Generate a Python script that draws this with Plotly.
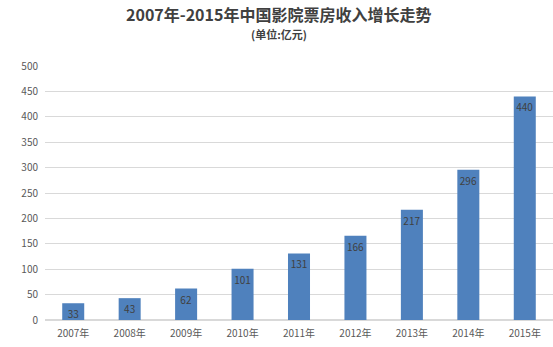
import plotly.graph_objects as go

years = ["2007年", "2008年", "2009年", "2010年", "2011年", "2012年", "2013年", "2014年", "2015年"]
revenue = [33, 43, 62, 101, 131, 166, 217, 296, 440]
y_ticks = [0, 50, 100, 150, 200, 250, 300, 350, 400, 450, 500]

font_family = "Noto Sans CJK SC, Noto Sans, sans-serif"

fig = go.Figure(go.Bar(
    x=years, y=revenue,
    marker=dict(color="#4F81BD", line=dict(width=0)),
    text=[str(v) for v in revenue],
    textposition="inside", insidetextanchor="end", textangle=0,
    textfont=dict(color="#404040", size=10, family=font_family),
    constraintext="none",
))

H = 347
fig.update_layout(
    width=553, height=H,
    margin=dict(l=45, r=0, t=66, b=27),
    paper_bgcolor="white", plot_bgcolor="white",
    bargap=0.61,
    showlegend=False,
    font=dict(family=font_family, color="#595959", size=10),
    annotations=[
        dict(text="<b>2007年-2015年中国影院票房收入增长走势</b>", xref="paper", yref="paper",
             x=0.46, y=1 + (66 - 14) / (H - 93), xanchor="center", yanchor="middle",
             showarrow=False, font=dict(size=16, color="#404040", family=font_family)),
        dict(text="<b>(单位:亿元)</b>", xref="paper", yref="paper",
             x=0.46, y=1 + (66 - 34) / (H - 93), xanchor="center", yanchor="middle",
             showarrow=False, font=dict(size=11, color="#404040", family=font_family)),
    ],
)
fig.update_yaxes(
    range=[0, 500], tickvals=y_ticks, showgrid=True, gridcolor="#D9D9D9",
    zeroline=True, zerolinecolor="#D9D9D9", showline=False,
    ticks="", ticklabelstandoff=6, tickfont=dict(size=10, color="#595959"),
)
fig.update_xaxes(
    showline=False, ticks="", ticklabelstandoff=6, tickfont=dict(size=10, color="#595959"),
)

fig.write_html("out.html")
